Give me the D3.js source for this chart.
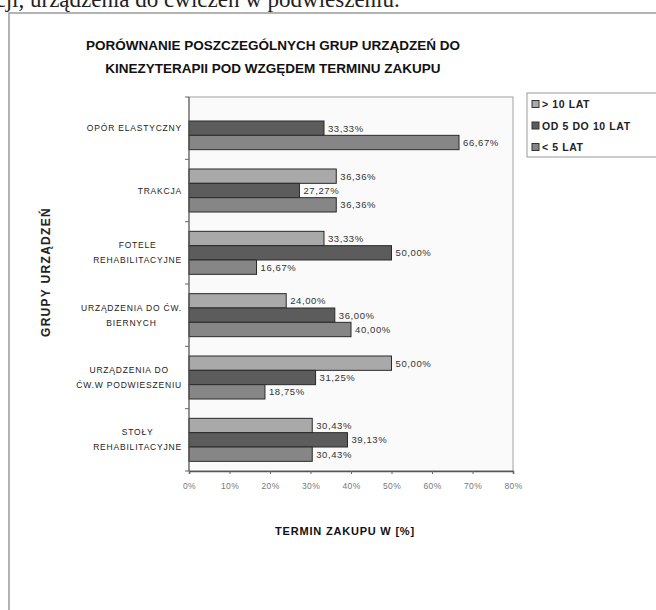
<!DOCTYPE html>
<html>
    <head>
        <meta charset="utf-8">
        <script src="https://d3js.org/d3.v7.min.js"></script>
        <style>
            body {
                margin: 0;
                background: white;
            }
            text {
                font-family: "Liberation Sans", Arial, sans-serif;
            }
        </style>
    </head>
    <body>
    <script>

        // data (top group first)
        const categories = [
            ['OPÓR ELASTYCZNY'],
            ['TRAKCJA'],
            ['FOTELE', 'REHABILITACYJNE'],
            ['URZĄDZENIA DO ĆW.', 'BIERNYCH'],
            ['URZĄDZENIA DO', 'ĆW.W PODWIESZENIU'],
            ['STOŁY', 'REHABILITACYJNE']
        ];
        const seriesNames = ['> 10 LAT', 'OD 5 DO 10 LAT', '< 5 LAT'];
        const over10 = [null, 36.36, 33.33, 24.00, 50.00, 30.43];
        const from5to10 = [33.33, 27.27, 50.00, 36.00, 31.25, 39.13];
        const under5 = [66.67, 36.36, 16.67, 40.00, 18.75, 30.43];
        const xTicks = [0, 10, 20, 30, 40, 50, 60, 70, 80];
        const seriesColors = ['#a9a9a9', '#5c5c5c', '#868686'];

        const width = 656;
        const height = 610;
        const plot = {left: 189, right: 513, top: 97, bottom: 471};

        const series = [over10, from5to10, under5];

        var svg = d3.select('body')
            .append('svg')
            .attr('width', width)
            .attr('height', height);

        // piece of the page text above the figure (cut by the scan)
        svg.append('text')
            .attr('x', -16)
            .attr('y', 7)
            .style('font-family', '"Liberation Serif", serif')
            .style('font-size', '23px')
            .attr('fill', '#222')
            .text('kcji, urządzenia do ćwiczeń w podwieszeniu.');

        // outer chart frame
        svg.append('path')
            .attr('d', 'M9,' + height + 'V13H' + width)
            .attr('fill', 'none')
            .attr('stroke', '#9a9a9a')
            .attr('stroke-width', 1.5);

        // title
        var title = svg.append('text')
            .attr('x', 273)
            .attr('y', 50)
            .attr('text-anchor', 'middle')
            .style('font-size', '13.5px')
            .style('font-weight', 'bold')
            .attr('fill', '#111');
        title.append('tspan').attr('x', 273).text('PORÓWNANIE POSZCZEGÓLNYCH GRUP URZĄDZEŃ DO');
        title.append('tspan').attr('x', 273).attr('dy', 23).text('KINEZYTERAPII POD WZGĘDEM TERMINU ZAKUPU');

        var xScale = d3.scaleLinear()
            .domain([0, 80])
            .range([plot.left, plot.right]);

        var yScale = d3.scaleBand()
            .domain(d3.range(categories.length))
            .range([plot.top, plot.bottom])
            .paddingInner(0.31)
            .paddingOuter(0.155);

        var ySub = d3.scaleBand()
            .domain(d3.range(series.length))
            .range([0, yScale.bandwidth()]);

        // plot area
        svg.append('rect')
            .attr('x', plot.left)
            .attr('y', plot.top)
            .attr('width', plot.right - plot.left)
            .attr('height', plot.bottom - plot.top)
            .attr('fill', '#fafafa')
            .attr('stroke', '#a0a0a0')
            .attr('stroke-width', 1);

        // bars and value labels, keeping the group index of each value
        series.forEach(function(values, s) {
            var rows = values
                .map(function(v, i) { return {v: v, i: i}; })
                .filter(function(d) { return d.v != null; });

            svg.append('g')
                .selectAll('rect')
                .data(rows)
                .enter()
                .append('rect')
                .attr('x', xScale(0))
                .attr('y', function(d) { return yScale(d.i) + ySub(s); })
                .attr('width', function(d) { return xScale(d.v) - xScale(0); })
                .attr('height', ySub.bandwidth())
                .attr('fill', seriesColors[s])
                .attr('stroke', '#2a2a2a')
                .attr('stroke-width', 1);

            svg.append('g')
                .selectAll('text')
                .data(rows)
                .enter()
                .append('text')
                .attr('x', function(d) { return xScale(d.v) + 4; })
                .attr('y', function(d) { return yScale(d.i) + ySub(s) + ySub.bandwidth() / 2 + 3.5; })
                .style('font-size', '9.5px')
                .style('letter-spacing', '0.6px')
                .attr('fill', '#333')
                .text(function(d) { return d.v.toFixed(2).replace('.', ',') + '%'; });
        });

        // x axis
        var xAxis = d3.axisBottom(xScale)
            .tickValues(xTicks)
            .tickSize(3)
            .tickFormat(function(d) { return d + '%'; });
        var gx = svg.append('g')
            .attr('transform', 'translate(0,' + plot.bottom + ')')
            .call(xAxis);
        gx.select('.domain').attr('stroke', '#555').attr('stroke-width', 1.5);
        gx.selectAll('.tick line').attr('stroke', '#666');
        gx.selectAll('.tick text')
            .attr('y', 12)
            .style('font-family', '"Liberation Sans", Arial, sans-serif')
            .style('font-size', '8.5px')
            .style('letter-spacing', '0.4px')
            .attr('fill', '#777');

        // y axis: ticks between groups
        var yBounds = d3.range(categories.length + 1).map(function(i) {
            return plot.top + i * (plot.bottom - plot.top) / categories.length;
        });
        svg.append('line')
            .attr('x1', plot.left).attr('x2', plot.left)
            .attr('y1', plot.top).attr('y2', plot.bottom)
            .attr('stroke', '#555');
        svg.append('g')
            .selectAll('line')
            .data(yBounds)
            .enter()
            .append('line')
            .attr('x1', plot.left - 4)
            .attr('x2', plot.left)
            .attr('y1', function(d) { return d; })
            .attr('y2', function(d) { return d; })
            .attr('stroke', '#666');

        // category labels, multi-line labels centred on their widest line
        categories.forEach(function(lines, i) {
            var cy = yScale(i) + yScale.bandwidth() / 2;
            var t = svg.append('text')
                .attr('text-anchor', 'middle')
                .style('font-size', '8.5px')
                .style('letter-spacing', '0.8px')
                .attr('fill', '#222');
            lines.forEach(function(line, k) {
                t.append('tspan')
                    .attr('dy', k == 0 ? 0 : 15)
                    .text(line);
            });
            var maxW = d3.max(t.selectAll('tspan').nodes(), function(n) { return n.getComputedTextLength(); });
            var cx = 182 - maxW / 2;
            t.selectAll('tspan').attr('x', cx);
            t.attr('y', cy + 3 - (lines.length - 1) * 7.5);
        });

        // axis titles
        svg.append('text')
            .attr('x', 345)
            .attr('y', 535)
            .attr('text-anchor', 'middle')
            .style('font-size', '11px')
            .style('font-weight', 'bold')
            .style('letter-spacing', '0.8px')
            .attr('fill', '#111')
            .text('TERMIN ZAKUPU W [%]');

        svg.append('text')
            .attr('transform', 'translate(50,272) rotate(-90)')
            .attr('text-anchor', 'middle')
            .style('font-size', '12px')
            .style('font-weight', 'bold')
            .style('letter-spacing', '1.3px')
            .attr('fill', '#222')
            .text('GRUPY URZĄDZEŃ');

        // legend
        var legend = svg.append('g');
        legend.append('rect')
            .attr('x', 527)
            .attr('y', 93)
            .attr('width', 140)
            .attr('height', 64)
            .attr('fill', 'white')
            .attr('stroke', '#999');
        seriesNames.forEach(function(name, s) {
            var ly = 104 + s * 21.5;
            legend.append('rect')
                .attr('x', 532)
                .attr('y', ly - 3.5)
                .attr('width', 7)
                .attr('height', 7)
                .attr('fill', seriesColors[s])
                .attr('stroke', '#333');
            legend.append('text')
                .attr('x', 542)
                .attr('y', ly + 4)
                .style('font-size', '10.5px')
                .style('font-weight', 'bold')
                .style('letter-spacing', '0.6px')
                .attr('fill', '#222')
                .text(name);
        });

    </script>
    </body>
</html>
